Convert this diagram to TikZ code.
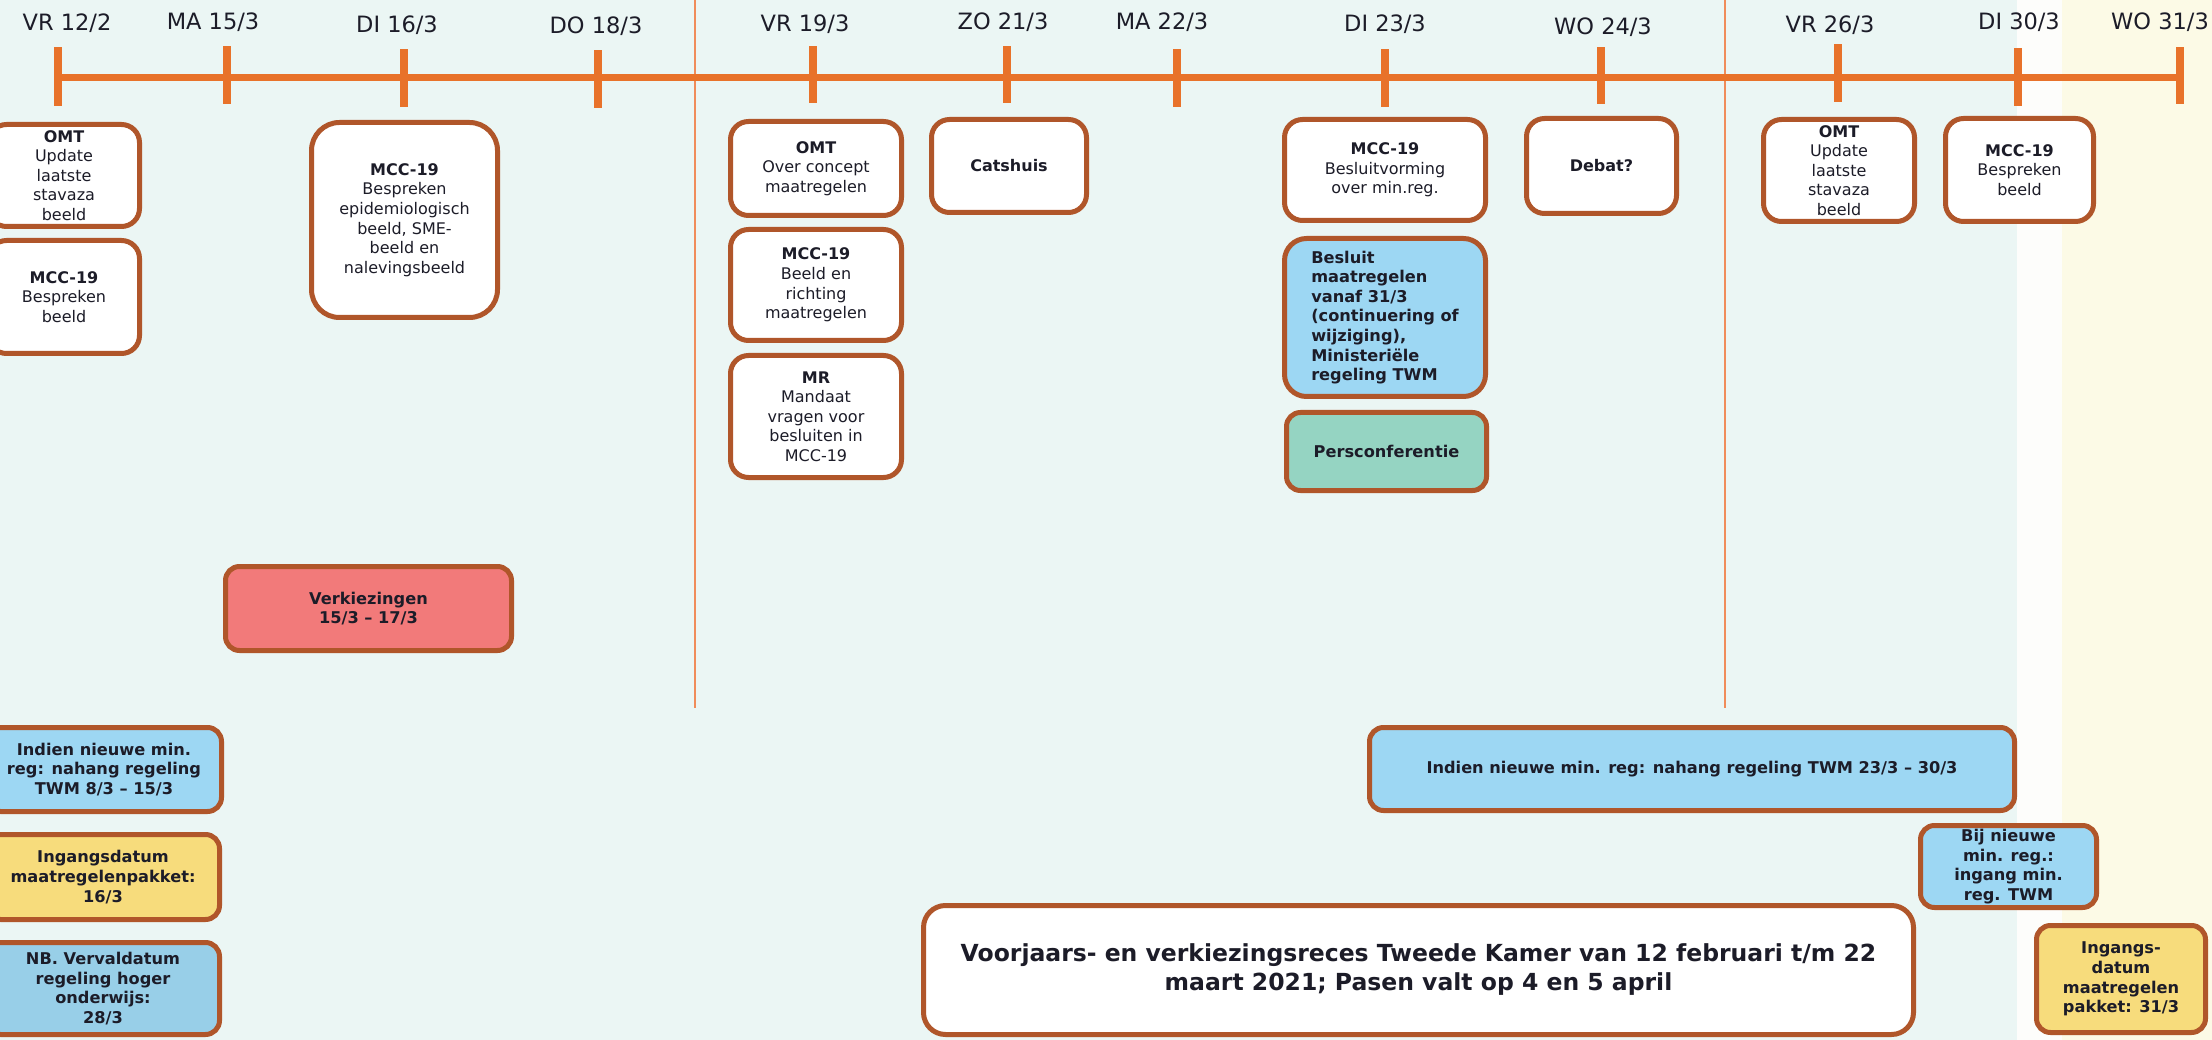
\documentclass[tikz,border=0pt]{standalone}
\usepackage{fontspec}
\setmainfont{DejaVu Sans}
\definecolor{bgmint}{RGB}{235,246,244}
\definecolor{bgyel}{RGB}{252,250,230}
\definecolor{bgwhite}{RGB}{253,253,251}
\definecolor{bord}{RGB}{176,86,42}
\definecolor{tlc}{RGB}{232,114,42}
\definecolor{sepc}{RGB}{240,140,90}
\definecolor{txt}{RGB}{28,28,40}
\definecolor{fblue}{RGB}{157,215,243}
\definecolor{fblue2}{RGB}{152,207,232}
\definecolor{fyel}{RGB}{247,220,124}
\definecolor{fred}{RGB}{242,122,122}
\definecolor{fgreen}{RGB}{149,212,194}
\newcommand\fsz[2]{\fontsize{#1}{#2}\selectfont}
% #1 style, #2 name, #3 x1, #4 y1, #5 x2, #6 y2, #7 text
\newcommand\placebox[7]{%
  \pgfmathsetmacro\bw{#5-#3-5}%
  \pgfmathsetmacro\bh{#6-#4-5}%
  \node[#1, minimum width=\bw pt, minimum height=\bh pt] (#2) at ({(#3+#5)/2},{(#4+#6)/2}) {#7};}
\newcommand\tickmark[4]{%
  \pgfmathsetmacro\th{#4-#3}%
  \node[tickbar, minimum height=\th pt] (#1) at (#2,{(#3+#4)/2}) {};}
\begin{document}
\begin{tikzpicture}[x=1pt,y=-1pt,
  box/.style={draw=bord, line width=5pt, rounded corners=18pt, fill=white,
    align=center, inner sep=0pt, text=txt, font=\fsz{16}{19.6}},
  cbox/.style={box, rounded corners=14pt, font=\bfseries\fsz{16.2}{19.6}},
  tickbar/.style={rectangle, fill=tlc, draw=none, inner sep=0pt, minimum width=7.5pt},
  lbl/.style={text=txt, inner sep=0pt, font=\fsz{22.5}{26}},
  sep/.style={draw=sepc, line width=1.6pt}]
\useasboundingbox (0,0) rectangle (2212,1040);
% backgrounds
\fill[bgmint] (0,0) rectangle (2017,1040);
\fill[bgwhite] (2017,0) rectangle (2062,1040);
\fill[bgyel] (2062,0) rectangle (2212,1040);
% separators
\coordinate (s1a) at (695,0); \coordinate (s1b) at (695,708);
\coordinate (s2a) at (1725,0); \coordinate (s2b) at (1725,708);
\draw[sep] (s1a) -- (s1b);
\draw[sep] (s2a) -- (s2b);
% timeline
\tickmark{k1}{58}{47}{106}
\tickmark{k2}{227}{46}{104}
\tickmark{k3}{404}{49}{107}
\tickmark{k4}{598}{50}{108}
\tickmark{k5}{813}{46}{103}
\tickmark{k6}{1007}{46}{103}
\tickmark{k7}{1177}{49}{107}
\tickmark{k8}{1385}{49}{107}
\tickmark{k9}{1601}{47}{104}
\tickmark{k10}{1838}{44}{102}
\tickmark{k11}{2018}{48}{106}
\tickmark{k12}{2180}{47}{104}
\coordinate (ty) at (0,77.5);
\draw[tlc, line width=7pt] (k1 |- ty) -- (k12 |- ty);
% labels
\node[lbl] (l1) at (67,23) {VR 12/2};
\node[lbl] (l2) at (213,22) {MA 15/3};
\node[lbl] (l3) at (397,25) {DI 16/3};
\node[lbl] (l4) at (596,26) {DO 18/3};
\node[lbl] (l5) at (805,24) {VR 19/3};
\node[lbl] (l6) at (1003,22) {ZO 21/3};
\node[lbl] (l7) at (1162,22) {MA 22/3};
\node[lbl] (l8) at (1385,24) {DI 23/3};
\node[lbl] (l9) at (1603,27) {WO 24/3};
\node[lbl] (l10) at (1830,25) {VR 26/3};
\node[lbl] (l11) at (2019,22) {DI 30/3};
\node[lbl, anchor=west] (l12) at (2111,22) {WO 31/3};
% top boxes
\placebox{box}{omt1}{-14}{122}{142}{229}{\textbf{OMT}\\Update\\laatste\\stavaza\\beeld}
\placebox{box}{mcc1}{-14}{238}{142}{356}{\textbf{MCC-19}\\Bespreken\\beeld}
\placebox{box, rounded corners=28pt}{mcc2}{309}{120}{500}{320}{\textbf{MCC-19}\\Bespreken\\epidemiologisch\\beeld, SME-\\beeld en\\nalevingsbeeld}
\placebox{box}{omt2}{728}{119}{904}{218}{\textbf{OMT}\\Over concept\\maatregelen}
\placebox{box}{cats}{929}{117}{1089}{215}{\textbf{Catshuis}}
\placebox{box}{mcc3}{728}{227}{904}{343}{\textbf{MCC-19}\\Beeld en\\richting\\maatregelen}
\placebox{box}{mr}{728}{353}{904}{480}{\textbf{MR}\\Mandaat\\vragen voor\\besluiten in\\MCC-19}
\placebox{box}{mcc4}{1282}{117}{1488}{223}{\textbf{MCC-19}\\Besluitvorming\\over min.reg.}
\placebox{cbox, fill=fblue, align=left, rounded corners=22pt}{besl}{1282}{236}{1488}{399}{Besluit\\maatregelen\\vanaf 31/3\\(continuering of\\wijziging),\\Ministeriële\\regeling TWM}
\placebox{cbox, fill=fgreen}{pers}{1284}{410}{1489}{493}{Persconferentie}
\placebox{box}{debat}{1524}{116}{1679}{216}{\textbf{Debat?}}
\placebox{box}{omt3}{1761}{117}{1917}{224}{\textbf{OMT}\\Update\\laatste\\stavaza\\beeld}
\placebox{box}{mcc5}{1943}{116}{2096}{224}{\textbf{MCC-19}\\Bespreken\\beeld}
% middle
\placebox{cbox, fill=fred}{verk}{223}{564}{514}{653}{Verkiezingen\\15/3 – 17/3}
% bottom left
\placebox{cbox, fill=fblue}{ind1}{-16}{725}{224}{814}{Indien nieuwe min.\\reg: nahang regeling\\TWM 8/3 – 15/3}
\placebox{cbox, fill=fyel}{ing1}{-16}{832}{222}{922}{Ingangsdatum\\maatregelenpakket:\\16/3}
\placebox{cbox, fill=fblue2}{nb}{-16}{940}{222}{1037}{NB. Vervaldatum\\regeling hoger\\onderwijs:\\28/3}
% bottom right
\placebox{cbox, fill=fblue}{ind2}{1367}{725}{2017}{813}{Indien nieuwe min. reg: nahang regeling TWM 23/3 – 30/3}
\placebox{cbox, fill=fblue}{bij}{1918}{823}{2099}{910}{Bij nieuwe\\min. reg.:\\ingang min.\\reg. TWM}
\placebox{box, rounded corners=22pt, font=\bfseries\fsz{23.5}{29}}{voorj}{921}{903}{1916}{1037}{Voorjaars- en verkiezingsreces Tweede Kamer van 12 februari t/m 22\\maart 2021; Pasen valt op 4 en 5 april}
\placebox{cbox, fill=fyel}{ing2}{2034}{923}{2208}{1035}{Ingangs-\\datum\\maatregelen\\pakket: 31/3}
\end{tikzpicture}
\end{document}
